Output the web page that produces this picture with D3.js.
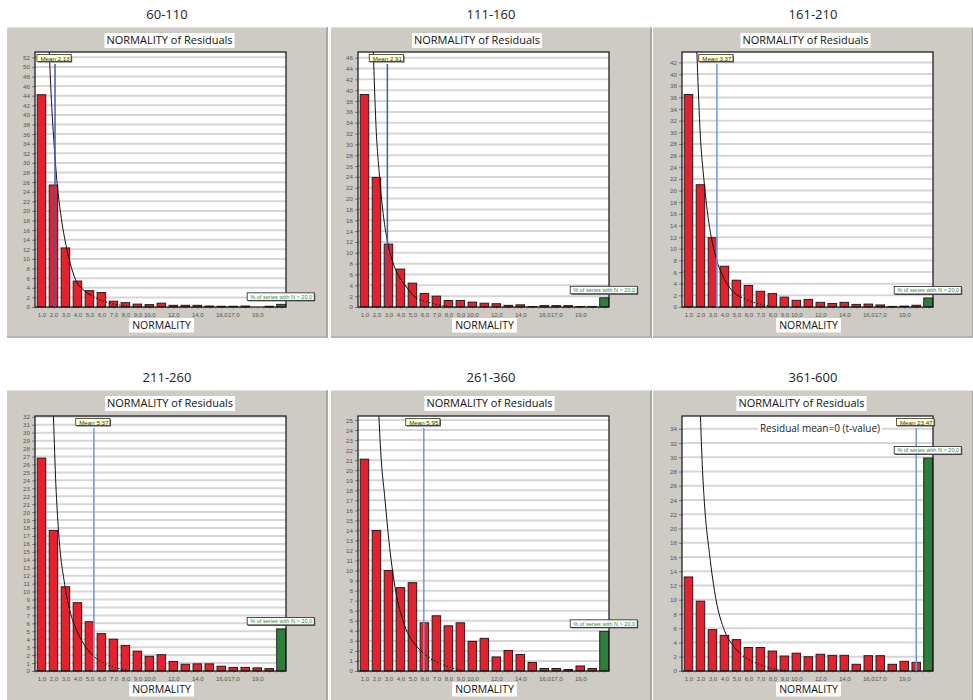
<!DOCTYPE html>
<html>
<head>
<meta charset="utf-8">
<script src="https://cdn.jsdelivr.net/npm/d3@7"></script>
<style>
body { margin: 0; background: #fff; }
svg text { font-family: "Liberation Sans", Arial, sans-serif; }
.head { font-family: "Open Sans", "Noto Sans", sans-serif !important; }
</style>
</head>
<body>
<svg id="chart" width="973" height="700"></svg>
<script>
// panel titles (size classes)
var groups = ["60-110", "111-160", "161-210", "211-260", "261-360", "361-600"];

// % of series per NORMALITY bin (20 bins), one array per panel
var freq60_110  = [44.2, 25.4, 12.3, 5.4, 3.4, 3.0, 1.2, 0.9, 0.6, 0.5, 0.8, 0.35, 0.35, 0.35, 0.2, 0.15, 0.15, 0.2, 0.0, 0.15];
var freq111_160 = [39.2, 23.9, 11.6, 7.0, 4.4, 2.5, 2.0, 1.2, 1.2, 0.9, 0.7, 0.6, 0.3, 0.4, 0.1, 0.25, 0.25, 0.25, 0.1, 0.1];
var freq161_210 = [36.5, 21.0, 11.9, 7.0, 4.6, 3.7, 2.7, 2.3, 1.7, 1.15, 1.3, 0.8, 0.6, 0.8, 0.45, 0.5, 0.35, 0.1, 0.15, 0.3];
var freq211_260 = [26.8, 17.7, 10.6, 8.6, 6.2, 4.7, 4.0, 3.2, 2.5, 1.85, 2.05, 1.2, 0.85, 0.9, 0.9, 0.6, 0.45, 0.45, 0.4, 0.3];
var freq261_360 = [21.1, 14.0, 10.0, 8.3, 8.8, 4.8, 5.5, 4.5, 4.8, 2.95, 3.25, 1.4, 2.05, 1.65, 0.85, 0.25, 0.25, 0.15, 0.5, 0.25];
var freq361_600 = [13.2, 9.8, 5.8, 5.0, 4.4, 3.3, 3.3, 2.8, 2.1, 2.5, 2.0, 2.35, 2.2, 2.2, 0.94, 2.15, 2.15, 0.94, 1.36, 1.22];

// % of series with N > 20,0 (green bar)
var over20 = [0.55, 1.7, 1.55, 5.3, 3.95, 29.9];

// mean NORMALITY per panel
var means = [2.13, 2.91, 3.37, 5.37, 5.95, 23.47];
var meanLabels = ["Mean 2,13", "Mean 2,91", "Mean 3,37", "Mean 5,37", "Mean 5,95", "Mean 23,47"];

// y axis extent and tick step per panel
var yMax  = [53.1, 47.05, 43.8, 32.1, 25.4, 35.8];
var yStep = [2, 2, 2, 1, 1, 2];

// x tick labels (bin number -> label)
var tickBins   = [1, 2, 3, 4, 5, 6, 7, 8, 9, 10, 12, 14, 16, 17, 19];
var tickLabels = ["1,0", "2,0", "3,0", "4,0", "5,0", "6,0", "7,0", "8,0", "9,0", "10,0", "12,0", "14,0", "16,0", "17,0", "19,0"];

// reference curve (bin position, value)
var curveX60  = [1.65, 1.85, 2.05, 2.32, 2.6, 3.1, 3.5, 3.93, 4.4, 4.9, 5.6, 6.7, 7.8, 8.7];
var curveY60  = [53.1, 42, 34, 25.4, 19.5, 12.2, 8.2, 5.2, 3.8, 2.8, 1.8, 0.8, 0.3, 0.05];
var curveX111 = [1.74, 1.95, 2.26, 2.6, 2.9, 3.5, 4.0, 4.5, 5.2, 6.3, 7.4, 8.5];
var curveY111 = [47.05, 34, 24, 16.5, 12.3, 7.4, 5.2, 3.7, 1.85, 0.9, 0.3, 0.05];
var curveX161 = [1.7, 1.95, 2.33, 2.7, 3.2, 3.9, 4.9, 5.6, 6.3, 7.2, 8.0];
var curveY161 = [43.8, 31, 21, 14.5, 9.2, 5.2, 2.3, 1.5, 0.9, 0.4, 0.1];
var curveX211 = [2.0, 2.2, 2.42, 2.97, 3.44, 4.0, 4.7, 5.4, 6.5, 7.5, 8.7];
var curveY211 = [32.1, 23.5, 17.7, 10.6, 7.2, 4.9, 3.0, 1.8, 0.8, 0.3, 0.05];
var curveX261 = [2.2, 2.4, 2.67, 3.1, 3.6, 4.3, 5.4, 6.0, 7.4, 9.0];
var curveY261 = [25.4, 21, 17.6, 12.3, 8.0, 4.7, 2.4, 1.7, 0.7, 0.1];
var curveX361 = [2.0, 2.15, 2.33, 2.75, 3.3, 4.0, 4.8, 5.5, 6.8, 8.4, 9.2];
var curveY361 = [35.8, 29, 23.6, 16.5, 10, 5.7, 3.4, 2.2, 1.0, 0.2, 0.05];
var dotFrom = [5.1, 5.4, 5.3, 5.6, 6.0, 5.3];

var allFreq = [freq60_110, freq111_160, freq161_210, freq211_260, freq261_360, freq361_600];
var allCurveX = [curveX60, curveX111, curveX161, curveX211, curveX261, curveX361];
var allCurveY = [curveY60, curveY111, curveY161, curveY211, curveY261, curveY361];

// layout of the 2x3 grid
var grayX = [7, 331, 653];
var plotL = [35, 358, 682];
var plotR = [286, 609, 933];
var rowGrayY = [27, 390];
var rowPlotTop = [52, 416];
var rowPlotBot = [307, 671];
var titleBoxCx = [169.5, 477, 805.5, 170, 489.5, 801.5];

var svg = d3.select("#chart");

groups.forEach(function(name, p) {
    var col = p % 3, row = Math.floor(p / 3);
    var gx = grayX[col], gy = rowGrayY[row];
    var top = rowPlotTop[row], bot = rowPlotBot[row];
    var left = plotL[col], right = plotR[col];

    var x = d3.scaleLinear().domain([0.46, 21.4]).range([left, right]);
    var y = d3.scaleLinear().domain([0, yMax[p]]).range([bot, top]);

    var g = svg.append("g");

    // panel heading above the gray frame
    g.append("text")
        .attr("class", "head")
        .attr("x", gx + 160)
        .attr("y", gy - 8)
        .attr("text-anchor", "middle")
        .style("font-size", "13px")
        .attr("fill", "#222")
        .text(name);

    // gray frame
    g.append("rect")
        .attr("x", gx).attr("y", gy)
        .attr("width", 320).attr("height", 320)
        .attr("fill", "#cdcbc3");
    g.append("line")
        .attr("x1", gx + 320).attr("x2", gx + 320)
        .attr("y1", gy).attr("y2", gy + 320)
        .attr("stroke", "#a9a7a1").attr("stroke-width", 2);
    g.append("line")
        .attr("x1", gx).attr("x2", gx + 320)
        .attr("y1", gy + 0.5).attr("y2", gy + 0.5)
        .attr("stroke", "#e4e2dc").attr("stroke-width", 1);
    if (row == 0) {
        g.append("line")
            .attr("x1", gx).attr("x2", gx + 320)
            .attr("y1", gy + 310).attr("y2", gy + 310)
            .attr("stroke", "#aeaca6").attr("stroke-width", 1.5);
        g.append("rect")
            .attr("x", gx - 1).attr("y", gy + 311)
            .attr("width", 323).attr("height", 12)
            .attr("fill", "#fff");
    }

    // chart title box
    var tt = g.append("text")
        .attr("class", "head")
        .attr("x", titleBoxCx[p])
        .attr("y", gy + 17)
        .attr("text-anchor", "middle")
        .style("font-size", "11px")
        .attr("fill", "#111")
        .text("NORMALITY of Residuals");
    var tw = tt.node().getComputedTextLength();
    g.insert("rect", function() { return tt.node(); })
        .attr("x", titleBoxCx[p] - tw / 2 - 2)
        .attr("y", gy + 6)
        .attr("width", tw + 4).attr("height", 15)
        .attr("fill", "#fff");

    // plot area
    g.append("rect")
        .attr("x", left).attr("y", top)
        .attr("width", right - left).attr("height", bot - top)
        .attr("fill", "#fff");

    var yTicks = d3.range(0, yMax[p] + 0.001, yStep[p]);

    // grid lines
    g.append("g").selectAll("line")
        .data(yTicks.filter(function(d) { return d > 0; }))
        .enter().append("line")
        .attr("x1", left).attr("x2", right)
        .attr("y1", function(d) { return y(d); })
        .attr("y2", function(d) { return y(d); })
        .attr("stroke", "#d6d6d6")
        .attr("stroke-width", 2);

    // y axis
    var yAxis = g.append("g")
        .attr("transform", "translate(" + left + ",0)")
        .call(d3.axisLeft(y).tickValues(yTicks).tickSize(3).tickPadding(2)
            .tickFormat(d3.format("d")));
    yAxis.select(".domain").remove();
    yAxis.selectAll("line").attr("stroke", "#777");
    yAxis.selectAll("text").style("font-size", "6.2px").attr("fill", "#555");

    // x axis minor ticks + labels
    var xAxis = g.append("g")
        .attr("transform", "translate(0," + bot + ")")
        .call(d3.axisBottom(x).tickValues(d3.range(0.5, 21.5, 0.5)).tickSize(2).tickFormat(""));
    xAxis.select(".domain").remove();
    xAxis.selectAll("line").attr("stroke", "#999");
    g.append("g").selectAll("text")
        .data(tickBins)
        .enter().append("text")
        .attr("x", function(d) { return x(d) + 0.5; })
        .attr("y", bot + 9.5)
        .attr("text-anchor", "middle")
        .style("font-size", "6.2px")
        .style("letter-spacing", "-0.1px")
        .attr("fill", "#555")
        .text(function(d, i) { return tickLabels[i]; });

    // red bars
    var bw = 8.5;
    g.append("g").selectAll("rect")
        .data(allFreq[p])
        .enter().append("rect")
        .attr("x", function(d, i) { return x(i + 1) - bw / 2; })
        .attr("y", function(d) { return y(d); })
        .attr("width", bw)
        .attr("height", function(d) { return bot - y(d); })
        .attr("fill", "#e4222f")
        .attr("stroke", "#2a1a1a")
        .attr("stroke-width", 1);

    // green bar (% of series with N > 20)
    g.append("rect")
        .attr("x", x(21) - 4.5)
        .attr("y", y(over20[p]))
        .attr("width", 9)
        .attr("height", bot - y(over20[p]))
        .attr("fill", "#2f7d3c")
        .attr("stroke", "#1a2a1a")
        .attr("stroke-width", 1);

    // reference curve: solid then dotted
    var pts = allCurveX[p].map(function(d, i) { return [d, allCurveY[p][i]]; });
    var line = d3.line()
        .x(function(d) { return x(d[0]); })
        .y(function(d) { return y(d[1]); })
        .curve(d3.curveMonotoneX);
    var defs = g.append("defs");
    defs.append("clipPath").attr("id", "solid" + p)
        .append("rect")
        .attr("x", left).attr("y", top)
        .attr("width", x(dotFrom[p]) - left).attr("height", bot - top);
    defs.append("clipPath").attr("id", "dot" + p)
        .append("rect")
        .attr("x", x(dotFrom[p])).attr("y", top)
        .attr("width", right - x(dotFrom[p])).attr("height", bot - top);
    g.append("path")
        .datum(pts)
        .attr("d", line)
        .attr("fill", "none")
        .attr("stroke", "#111")
        .attr("stroke-width", 1)
        .attr("clip-path", "url(#solid" + p + ")");
    g.append("path")
        .datum(pts)
        .attr("d", line)
        .attr("fill", "none")
        .attr("stroke", "#111")
        .attr("stroke-width", 1.2)
        .attr("stroke-dasharray", "1.2,2.2")
        .attr("clip-path", "url(#dot" + p + ")");

    // extra caption in the last panel
    if (p == 5) {
        var rc = g.append("text")
            .attr("class", "head")
            .attr("x", 820)
            .attr("y", y(34) + 3)
            .attr("text-anchor", "middle")
            .style("font-size", "10px")
            .attr("fill", "#222")
            .text("Residual mean=0 (t-value)");
        var rw = rc.node().getComputedTextLength();
        g.insert("rect", function() { return rc.node(); })
            .attr("x", 820 - rw / 2 - 2).attr("y", y(34) - 6)
            .attr("width", rw + 4).attr("height", 12)
            .attr("fill", "#fff");
    }

    // plot border
    g.append("rect")
        .attr("x", left).attr("y", top)
        .attr("width", right - left).attr("height", bot - top)
        .attr("fill", "none")
        .attr("stroke", "#111")
        .attr("stroke-width", 1.2);

    // mean line + label
    var mx = x(Math.min(means[p], 20));
    g.append("line")
        .attr("x1", mx).attr("x2", mx)
        .attr("y1", top + 12).attr("y2", bot)
        .attr("stroke", p == 0 || p == 1 ? "#3a5fb0" : "#6f98d8")
        .attr("stroke-width", 1.5);
    var mt = g.append("text")
        .attr("x", mx).attr("y", top + 8.6)
        .attr("text-anchor", "middle")
        .style("font-size", "6.2px")
        .attr("fill", "#333")
        .text(meanLabels[p]);
    var mw = mt.node().getComputedTextLength();
    g.insert("rect", function() { return mt.node(); })
        .attr("x", mx - mw / 2 - 2.5).attr("y", top + 3.5)
        .attr("width", mw + 5).attr("height", 7)
        .attr("fill", "#555");
    g.insert("rect", function() { return mt.node(); })
        .attr("x", mx - mw / 2 - 3.5).attr("y", top + 2.5)
        .attr("width", mw + 5).attr("height", 7)
        .attr("fill", "#ffffcc")
        .attr("stroke", "#333")
        .attr("stroke-width", 0.8);

    // green label
    var gxc = x(21);
    var gyb = y(over20[p]) - 4;
    var lt = g.append("text")
        .attr("x", gxc).attr("y", gyb - 1.8)
        .attr("text-anchor", "middle")
        .style("font-size", "5.6px")
        .attr("fill", "#2f8a3e")
        .text("% of series with N > 20,0");
    var lw = lt.node().getComputedTextLength();
    g.insert("rect", function() { return lt.node(); })
        .attr("x", gxc - lw / 2 - 2).attr("y", gyb - 6.5)
        .attr("width", lw + 5).attr("height", 7.5)
        .attr("fill", "#555");
    g.insert("rect", function() { return lt.node(); })
        .attr("x", gxc - lw / 2 - 3).attr("y", gyb - 7.5)
        .attr("width", lw + 5).attr("height", 7.5)
        .attr("fill", "#fff")
        .attr("stroke", "#222")
        .attr("stroke-width", 0.8);

    // x axis title
    var xc = (left + right) / 2 + 1;
    var xt = g.append("text")
        .attr("class", "head")
        .attr("x", xc).attr("y", bot + 22)
        .attr("text-anchor", "middle")
        .style("font-size", "10.5px")
        .attr("fill", "#111")
        .text("NORMALITY");
    var xw = xt.node().getComputedTextLength();
    g.insert("rect", function() { return xt.node(); })
        .attr("x", xc - xw / 2 - 3).attr("y", bot + 11)
        .attr("width", xw + 6).attr("height", 14.5)
        .attr("fill", "#fff");
});
</script>
</body>
</html>
